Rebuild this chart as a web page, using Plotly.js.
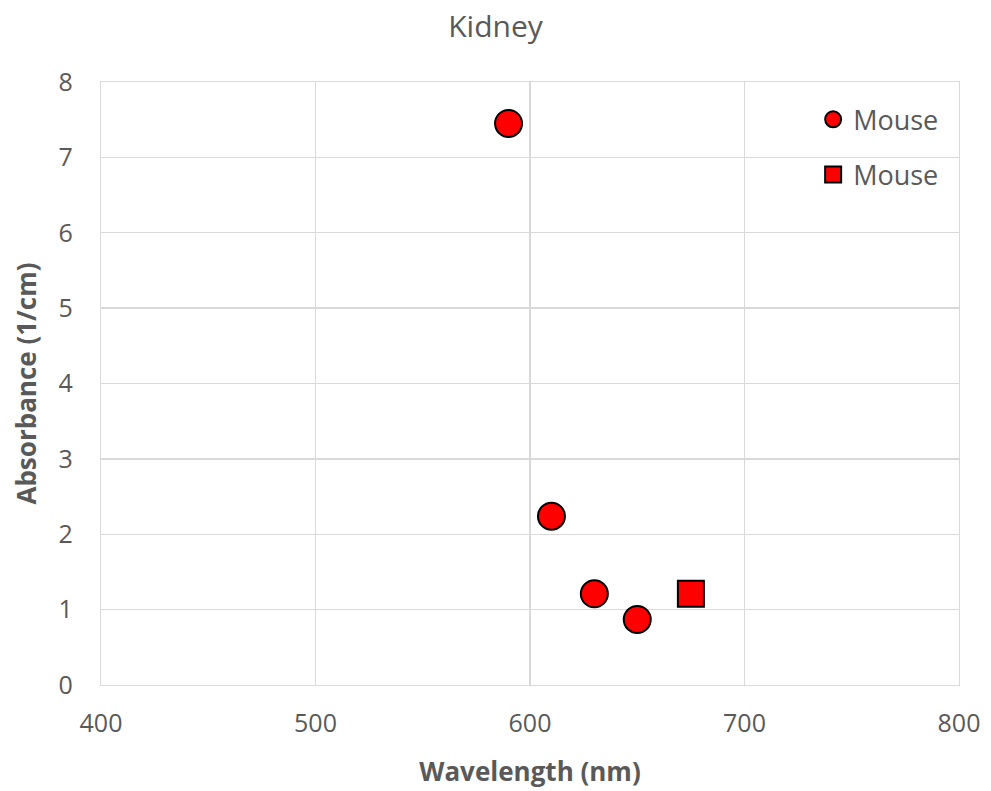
<!DOCTYPE html>
<html>
<head>
<meta charset="utf-8">
<script src="https://cdn.plot.ly/plotly-3.0.1.min.js"></script>
<style>
  html, body { margin: 0; padding: 0; background: #fff; }
  #chart { width: 991px; height: 791px; }
</style>
</head>
<body>
<div id="chart"></div>
<script>
// Kidney absorbance measurements (mouse)
const circleWavelength = [590, 610, 630, 650];
const circleAbsorbance = [7.45, 2.24, 1.21, 0.87];
const squareWavelength = [675];
const squareAbsorbance = [1.21];
const seriesNames = ['Mouse', 'Mouse'];

const textColor = '#595959';
const fontFamily = 'Open Sans, Noto Sans, sans-serif';

const traces = [
  {
    x: circleWavelength, y: circleAbsorbance,
    name: seriesNames[0], legendgroup: 'a',
    type: 'scatter', mode: 'markers',
    marker: { symbol: 'circle', size: 27, color: '#ff0000', line: { color: '#000000', width: 2 } }
  },
  {
    x: squareWavelength, y: squareAbsorbance,
    name: seriesNames[1], legendgroup: 'b',
    type: 'scatter', mode: 'markers',
    marker: { symbol: 'square', size: 26, color: '#ff0000', line: { color: '#000000', width: 2 } }
  }
];

const layout = {
  width: 991, height: 791,
  paper_bgcolor: '#ffffff', plot_bgcolor: '#ffffff',
  margin: { l: 101, r: 32, t: 82, b: 106 },
  font: { family: fontFamily, color: textColor, size: 25 },
  title: {
    text: 'Kidney', xref: 'container', x: 0.5, xanchor: 'center',
    yref: 'container', y: 0.966, yanchor: 'middle',
    font: { family: fontFamily, size: 30, color: textColor }
  },
  xaxis: {
    range: [400, 800], dtick: 100, tick0: 400,
    showgrid: true, gridcolor: '#d9d9d9', gridwidth: 1.3,
    zeroline: false, showline: true, linecolor: '#d9d9d9', linewidth: 1.3, mirror: true,
    ticks: '', ticklabelstandoff: 16,
    tickfont: { family: fontFamily, size: 25, color: textColor },
    title: { text: '<b>Wavelength (nm)</b>', standoff: 24, font: { family: fontFamily, size: 26, color: textColor } }
  },
  yaxis: {
    range: [0, 8], dtick: 1, tick0: 0,
    showgrid: true, gridcolor: '#d9d9d9', gridwidth: 1.3,
    zeroline: false, showline: true, linecolor: '#d9d9d9', linewidth: 1.3, mirror: true,
    ticks: '', ticklabelstandoff: 22,
    tickfont: { family: fontFamily, size: 25, color: textColor },
    title: { text: '<b>Absorbance (1/cm)</b>', standoff: 14, font: { family: fontFamily, size: 26, color: textColor } }
  },
  showlegend: true,
  legend: {
    x: 0.83, y: 0.978, xanchor: 'left', yanchor: 'top',
    bgcolor: 'rgba(255,255,255,0)',
    traceorder: 'grouped', tracegroupgap: 17,
    itemwidth: 30,
    font: { family: fontFamily, size: 27, color: textColor }
  }
};

Plotly.newPlot('chart', traces, layout, { displayModeBar: false, staticPlot: true });
</script>
</body>
</html>
